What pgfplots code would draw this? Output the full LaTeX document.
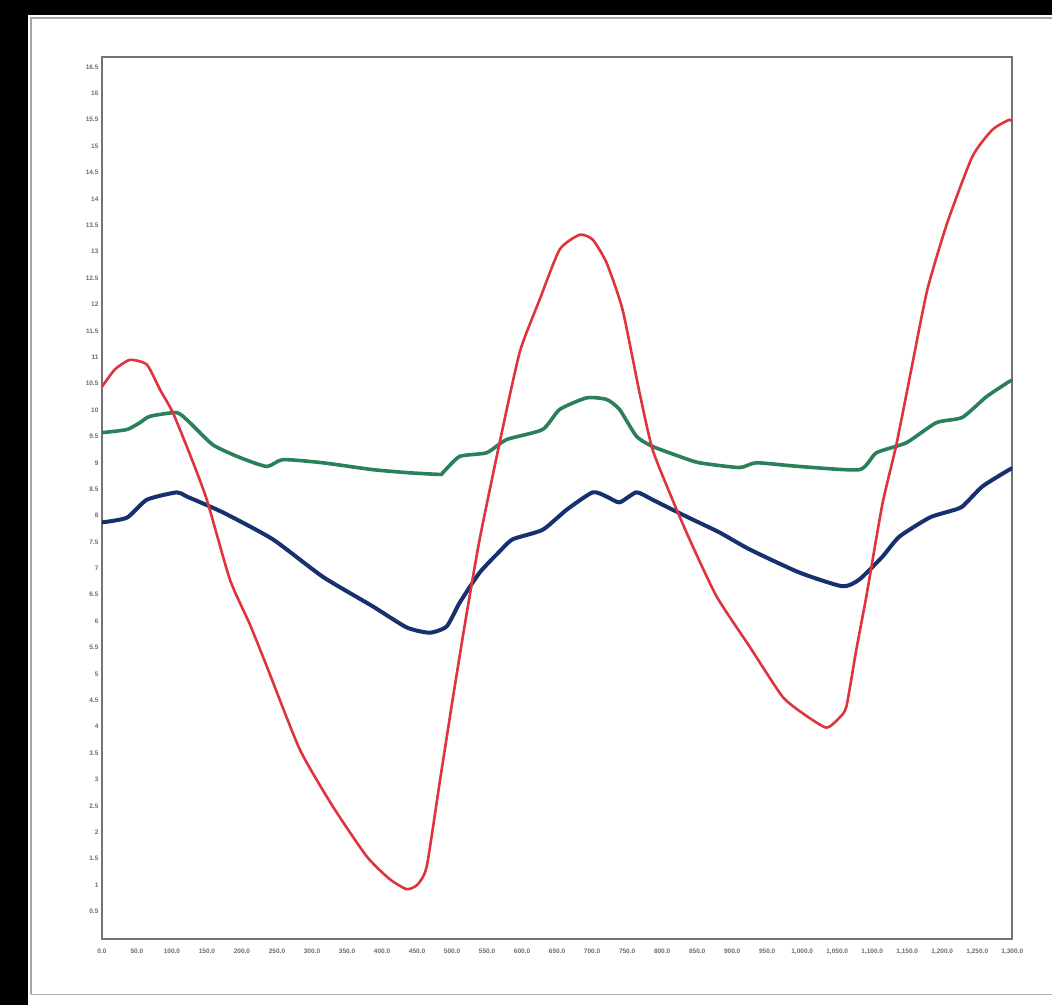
\documentclass[border=0pt]{standalone}
\usepackage{fontspec}
\setmainfont{Liberation Sans}
\usepackage{pgfplots}
\pgfplotsset{compat=1.18}
\definecolor{cred}{RGB}{222,52,62}
\definecolor{cgreen}{RGB}{42,128,88}
\definecolor{cblue}{RGB}{22,48,112}
\definecolor{lab}{RGB}{105,110,110}
\begin{document}
\begin{tikzpicture}[x=1pt,y=1pt]
\fill[black] (0,0) rectangle (1053,1006);
\fill[white] (28,0) rectangle (1053,991);
\draw[gray!70,line width=1.5pt] (31,11) -- (31,988) -- (1053,988);
\draw[gray!60,line width=1.5pt] (31,11) -- (1053,11);
\begin{axis}[
  at={(102pt,66pt)}, anchor=south west,
  width=911pt, height=883pt, scale only axis,
  xmin=0, xmax=1300, ymin=-0.03, ymax=16.69,
  xtick={0,50,...,1300},
  ytick={0.5,1,...,16.5},
  major tick length=0pt,
  tick label style={font=\fontsize{6.5}{7}\selectfont\bfseries, text=lab},
  /pgf/number format/assume math mode=true,
  xticklabel style={/pgf/number format/fixed, /pgf/number format/fixed zerofill, /pgf/number format/precision=1},
  yticklabel style={/pgf/number format/fixed, /pgf/number format/precision=2},
  axis line style={draw=gray!80, line width=1.2pt},
  x axis line style={draw=gray!90!black, line width=1.8pt},
  y axis line style={draw=gray!90!black, line width=1.8pt},
  xticklabel shift=6pt,
  yticklabel shift=0pt,
  clip=true,
]
\addplot[cgreen, line width=3.6pt, smooth, tension=0.35] coordinates {
(0,9.57)(35.7,9.63)(54.2,9.76)(68.5,9.88)(107.0,9.95)(125.6,9.76)(158.4,9.34)(196.9,9.10)(235.5,8.93)(258.3,9.06)(315.4,9.00)(386.7,8.87)(439.5,8.81)(482.3,8.78)(486.6,8.81)(510.9,9.12)(549.4,9.19)(577.9,9.44)(629.3,9.63)(653.6,10.01)(692.1,10.23)(720.6,10.20)(739.2,10.01)(763.4,9.50)(786.3,9.31)(824.8,9.12)(853.3,9.00)(910.4,8.91)(934.7,9.00)(996.0,8.93)(1081.7,8.87)(1105.9,9.19)(1148.7,9.38)(1191.5,9.76)(1228.6,9.86)(1262.9,10.25)(1295.7,10.54)(1300,10.56)};
\addplot[cblue, line width=4pt, smooth, tension=0.35] coordinates {
(0,7.87)(35.7,7.96)(64.2,8.30)(107.0,8.44)(121.3,8.36)(172.7,8.06)(244.0,7.55)(315.4,6.84)(386.7,6.28)(435.2,5.88)(468.1,5.78)(492.3,5.90)(510.9,6.35)(539.4,6.92)(567.9,7.32)(586.5,7.55)(629.3,7.73)(663.6,8.11)(700.7,8.44)(720.6,8.36)(739.2,8.25)(763.4,8.44)(786.3,8.30)(834.8,7.98)(881.9,7.68)(924.7,7.36)(996.0,6.92)(1057.4,6.66)(1081.7,6.79)(1114.5,7.22)(1138.7,7.60)(1181.6,7.96)(1210.1,8.08)(1228.6,8.17)(1257.2,8.55)(1295.7,8.87)(1300,8.89)};
\addplot[cred, line width=2.6pt, smooth, tension=0.35] coordinates {
(0,10.44)(18.6,10.77)(40,10.95)(64.2,10.86)(82.8,10.39)(101.3,9.95)(125.6,9.16)(149.8,8.30)(182.7,6.79)(211.2,5.94)(235.5,5.14)(282.5,3.57)(329.6,2.49)(378.2,1.54)(411,1.11)(435.3,0.92)(450.9,1.01)(463.8,1.35)(482.3,2.94)(500.9,4.52)(519.4,6.03)(539.4,7.55)(567.9,9.38)(596.5,11.09)(625,12.09)(653.6,13.04)(682.1,13.32)(700.7,13.23)(720.6,12.79)(743.5,11.90)(767.7,10.33)(786.3,9.25)(814.8,8.30)(839.1,7.55)(877.6,6.47)(924.7,5.52)(971.8,4.57)(1003.2,4.23)(1034.6,3.98)(1053.1,4.17)(1063.1,4.38)(1077.3,5.46)(1091.6,6.47)(1114.4,8.21)(1134.4,9.34)(1155.8,10.77)(1178.7,12.28)(1207.2,13.55)(1242.9,14.80)(1271.5,15.31)(1295.7,15.50)(1300,15.46)};
\end{axis}
\end{tikzpicture}
\end{document}
